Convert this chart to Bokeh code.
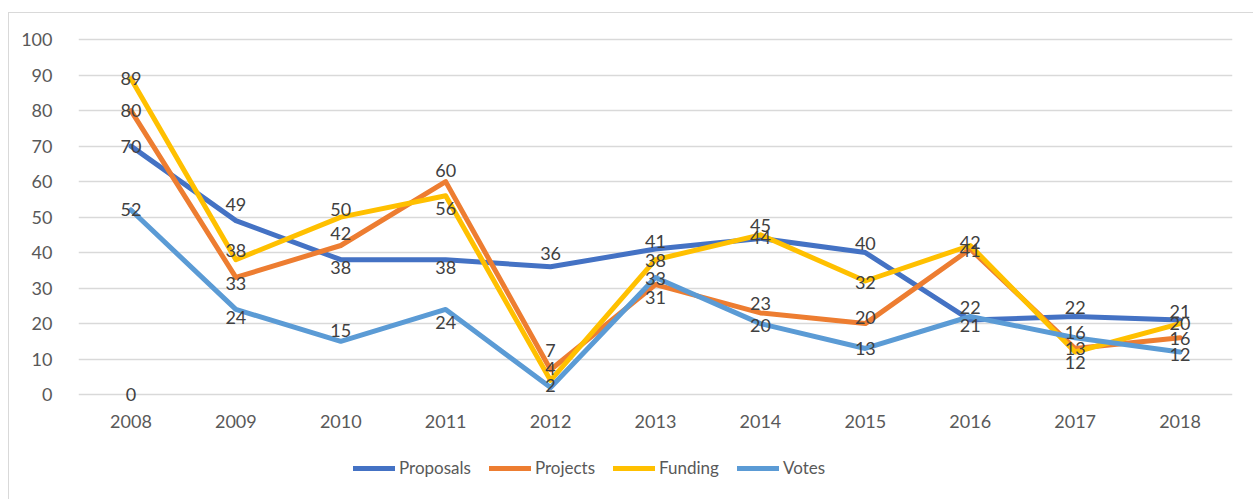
from bokeh.plotting import figure
from bokeh.models import ColumnDataSource, Legend, LegendItem, FactorRange, Range1d
from bokeh.embed import file_html
from bokeh.resources import INLINE
from bokeh.core.properties import value

# ---- data ----
years = ["2008", "2009", "2010", "2011", "2012", "2013", "2014", "2015", "2016", "2017", "2018"]
proposals = [70, 49, 38, 38, 36, 41, 44, 40, 21, 22, 21]
projects = [80, 33, 42, 60, 7, 31, 23, 20, 41, 13, 16]
funding = [89, 38, 50, 56, 4, 38, 45, 32, 42, 12, 20]
votes = [52, 24, 15, 24, 2, 33, 20, 13, 22, 16, 12]
stray_label_years = ["2008"]
stray_label_values = [0]
y_ticks = [0, 10, 20, 30, 40, 50, 60, 70, 80, 90, 100]

series_names = ["Proposals", "Projects", "Funding", "Votes"]
series_values = [proposals, projects, funding, votes]

# ---- style ----
colors = ["#4472C4", "#ED7D31", "#FFC000", "#5B9BD5"]
# vertical pixel offsets of the data labels (screen px, positive = down)
label_dy = [
    [0, -16, 8, 8, -13, -8, -1, -9, 5, -9, -9],
    [0, 6, -12, -11, -19, 13, -9, -6, 1, 0, 1],
    [0, -9, -8, 13, -12, 1, -9, 2, -3, 11, 0],
    [0, 8, -11, 13, -2, 1, 2, 0, -9, -5, 3],
]
FONT = "Lato"
TXT = "#404040"
AX = "#595959"

p = figure(
    x_range=FactorRange(factors=years, range_padding=0),
    y_range=Range1d(-24.2, 102),
    width=1245, height=487,
    output_backend="svg", toolbar_location=None,
    min_border_left=69, min_border_right=22,
    min_border_top=19, min_border_bottom=20,
)
p.styles = {"margin-left": "8px", "margin-top": "12px",
            "border-top": "1px solid #D9D9D9", "border-left": "1px solid #D9D9D9"}
p.outline_line_color = None
p.background_fill_color = "white"
p.border_fill_color = "white"

p.xgrid.grid_line_color = None
p.ygrid.grid_line_color = "#D9D9D9"
p.ygrid.grid_line_width = 1.5
p.yaxis.ticker = y_ticks

for ax in (p.xaxis[0], p.yaxis[0]):
    ax.axis_line_color = None
    ax.major_tick_line_color = None
    ax.minor_tick_line_color = None
    ax.major_label_text_font = FONT
    ax.major_label_text_font_size = "18px"
    ax.major_label_text_color = AX
p.yaxis.major_label_standoff = 20
p.xaxis.major_label_standoff = 14
p.xaxis.fixed_location = 0

renderers = []
for name, vals, col in zip(series_names, series_values, colors):
    src = ColumnDataSource(dict(x=years, y=vals))
    r = p.line("x", "y", source=src, line_color=col, line_width=5,
               line_join="round", line_cap="round")
    renderers.append(r)

for vals, dy in zip(series_values, label_dy):
    src = ColumnDataSource(dict(x=years, y=vals, t=[str(v) for v in vals], dy=dy))
    p.text("x", "y", text="t", y_offset="dy", source=src,
           text_font=value(FONT), text_font_size="18px", text_color=TXT,
           text_align="center", text_baseline="middle")

src0 = ColumnDataSource(dict(x=stray_label_years, y=stray_label_values,
                             t=[str(v) for v in stray_label_values]))
p.text("x", "y", text="t", source=src0, text_font=value(FONT), text_font_size="18px",
       text_color=TXT, text_align="center", text_baseline="middle")

legend = Legend(
    items=[LegendItem(label=n, renderers=[r]) for n, r in zip(series_names, renderers)],
    orientation="horizontal", location=(275, 2), margin=0, padding=0,
    border_line_color=None, background_fill_alpha=0,
    glyph_width=42, glyph_height=20, label_standoff=4, spacing=18,
    label_text_font=FONT, label_text_font_size="17px", label_text_color=AX,
)
p.add_layout(legend, "center")

open("out.html", "w").write(file_html(p, INLINE))
